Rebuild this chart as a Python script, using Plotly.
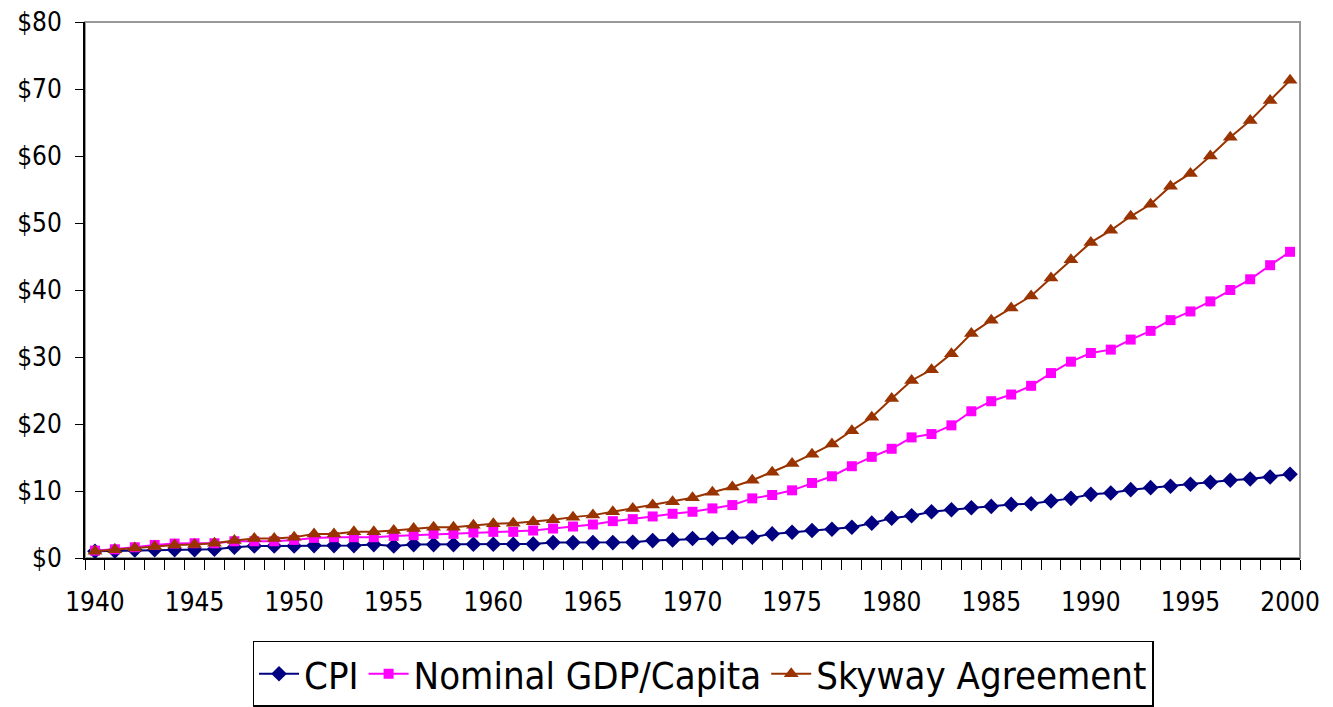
import plotly.graph_objects as go

years = list(range(1940, 2001))

cpi = [1.0, 1.05, 1.2, 1.25, 1.25, 1.25, 1.3, 1.6, 1.8, 1.8,
       1.8, 1.85, 1.85, 1.85, 2.0, 1.8, 2.0, 2.0, 2.0, 2.05,
       2.05, 2.05, 2.1, 2.3, 2.3, 2.3, 2.3, 2.35, 2.6, 2.7,
       2.9, 2.9, 3.05, 3.1, 3.6, 3.85, 4.1, 4.3, 4.6, 5.2,
       5.95, 6.3, 6.9, 7.2, 7.5, 7.7, 8.0, 8.1, 8.5, 8.9,
       9.5, 9.7, 10.2, 10.5, 10.7, 11.0, 11.3, 11.6, 11.8, 12.1,
       12.5]

gdp = [1.1, 1.3, 1.6, 1.95, 2.15, 2.2, 2.2, 2.5, 2.5, 2.5,
       2.7, 3.0, 3.1, 3.1, 3.1, 3.3, 3.4, 3.6, 3.6, 3.8,
       3.9, 3.9, 4.1, 4.4, 4.7, 5.0, 5.5, 5.8, 6.2, 6.6,
       6.9, 7.4, 7.9, 8.9, 9.4, 10.1, 11.2, 12.2, 13.7, 15.1,
       16.3, 18.0, 18.5, 19.8, 21.9, 23.4, 24.4, 25.7, 27.6, 29.3,
       30.6, 31.1, 32.6, 33.9, 35.5, 36.8, 38.3, 40.0, 41.6, 43.7,
       45.7]

skyway = [1.0, 1.25, 1.5, 1.7, 1.95, 2.0, 2.2, 2.6, 2.9, 2.9,
          3.1, 3.6, 3.6, 3.9, 3.9, 4.1, 4.4, 4.6, 4.6, 4.9,
          5.1, 5.2, 5.4, 5.7, 6.1, 6.4, 6.9, 7.4, 7.9, 8.4,
          9.0, 9.8, 10.6, 11.6, 12.8, 14.1, 15.5, 17.0, 19.0, 21.0,
          23.8, 26.5, 28.1, 30.5, 33.5, 35.5, 37.3, 39.1, 41.8, 44.5,
          47.1, 48.9, 51.0, 52.8, 55.5, 57.4, 60.0, 62.8, 65.3, 68.3,
          71.3]

x_labels = [1940, 1945, 1950, 1955, 1960, 1965, 1970, 1975, 1980, 1985, 1990, 1995, 2000]
y_ticks = [0, 10, 20, 30, 40, 50, 60, 70, 80]

FONT = "Liberation Sans Narrow, Arial Narrow, DejaVu Sans Condensed, sans-serif"

fig = go.Figure()
fig.add_trace(go.Scatter(x=years, y=cpi, name="CPI", mode="lines+markers",
                         line=dict(color="#000080", width=2),
                         marker=dict(symbol="diamond", size=12, color="#000080")))
fig.add_trace(go.Scatter(x=years, y=gdp, name="Nominal GDP/Capita", mode="lines+markers",
                         line=dict(color="#FF00FF", width=2),
                         marker=dict(symbol="square", size=10, color="#FF00FF")))
fig.add_trace(go.Scatter(x=years, y=skyway, name="Skyway Agreement", mode="lines+markers",
                         line=dict(color="#993300", width=2),
                         marker=dict(symbol="triangle-up", size=13, color="#993300")))

fig.add_shape(type="rect", xref="paper", yref="paper", x0=0, y0=0, x1=1, y1=1,
              line=dict(color="#999999", width=2), layer="below")

fig.update_layout(
    width=1333, height=707,
    margin=dict(l=77, r=41, t=14, b=157),
    paper_bgcolor="white", plot_bgcolor="white",
    font=dict(family=FONT, color="black", size=26),
    showlegend=True,
    legend=dict(orientation="h", xref="container", yref="container",
                x=0.5214, xanchor="center", y=0.1047, yanchor="top",
                bordercolor="black", borderwidth=1.5, bgcolor="white",
                font=dict(family=FONT, size=38, color="black"),
                itemwidth=40, traceorder="normal"),
    xaxis=dict(range=[1939.5, 2000.5], tickvals=x_labels, ticktext=[str(v) for v in x_labels],
               ticks="", showgrid=False, zeroline=False, automargin=False,
               ticklabeloverflow="allow",
               showline=True, linecolor="black", linewidth=2,
               ticklabelstandoff=20, tickfont=dict(size=26),
               minor=dict(tick0=1939.5, dtick=1, ticks="outside", ticklen=10,
                          tickcolor="black", tickwidth=1, showgrid=False)),
    yaxis=dict(range=[0, 80], tickvals=y_ticks, ticktext=["$" + str(v) for v in y_ticks],
               ticks="outside", ticklen=8, tickcolor="black", tickwidth=1,
               showgrid=False, zeroline=False, automargin=False,
               ticklabeloverflow="allow",
               showline=True, linecolor="black", linewidth=2,
               ticklabelstandoff=8, tickfont=dict(size=26)),
)

fig.write_html("out.html")
